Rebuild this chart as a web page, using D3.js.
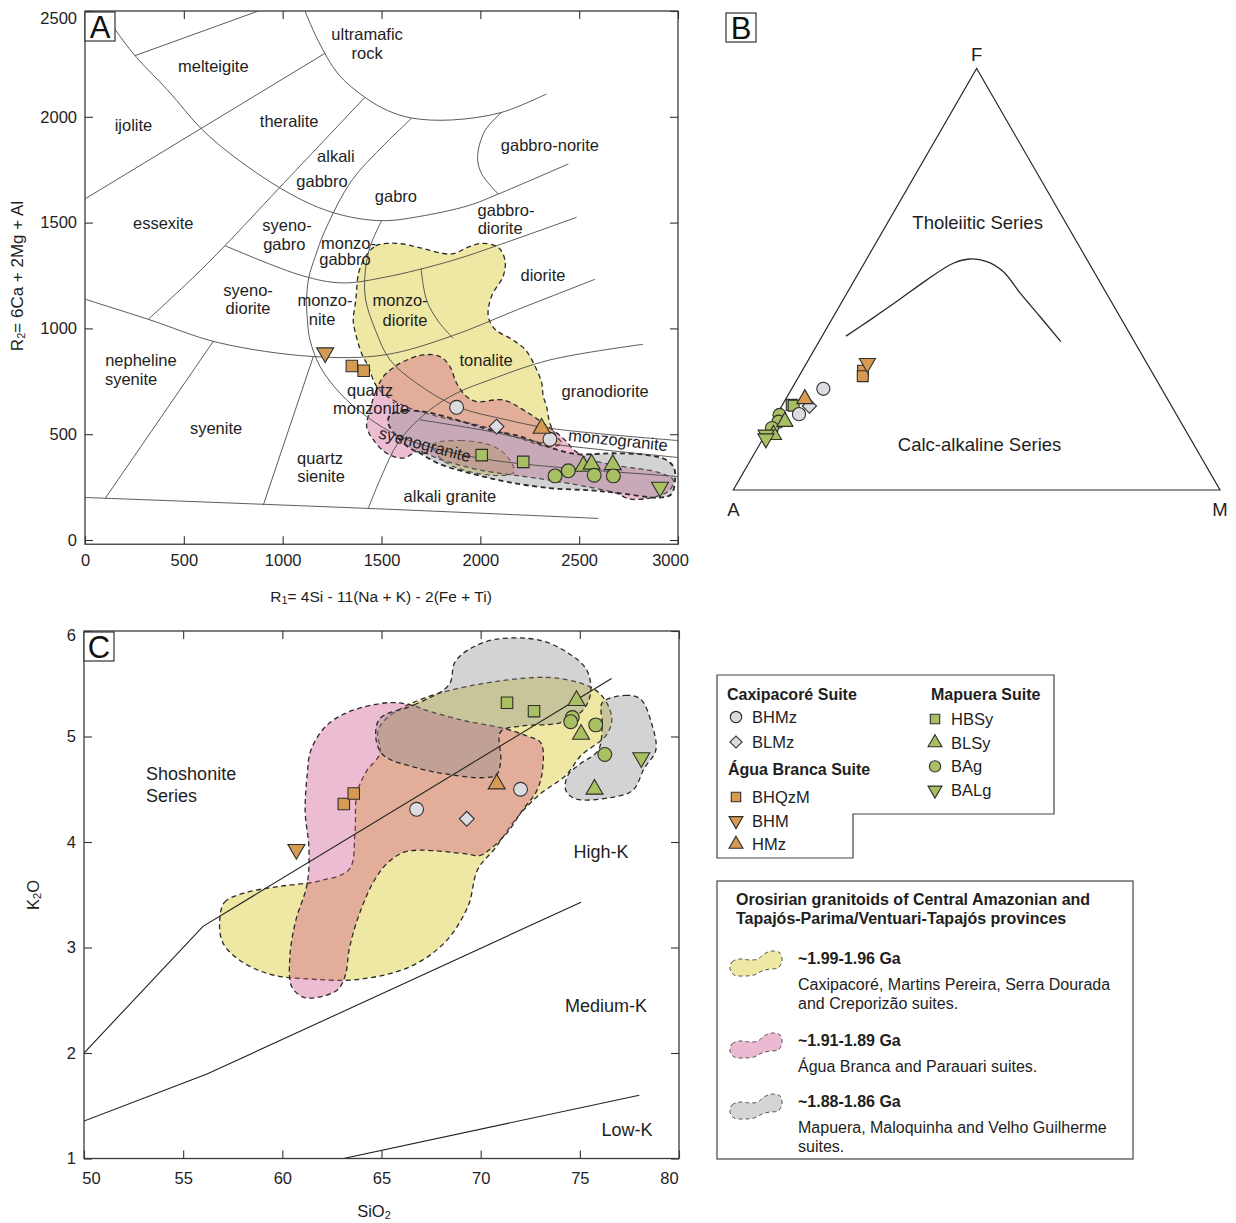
<!DOCTYPE html>
<html>
<head>
<meta charset="utf-8">
<script src="https://cdn.jsdelivr.net/npm/d3@7"></script>
<style>
  body { margin: 0; background: #fff; }
  svg { font-family: "Liberation Sans", Arial, sans-serif; }
</style>
</head>
<body>
<svg id="fig" width="1236" height="1223"></svg>
<script>
// ================= Panel A: R1–R2 classification =================
const r1Ticks = [0, 500, 1000, 1500, 2000, 2500, 3000];
const r2Ticks = [0, 500, 1000, 1500, 2000, 2500];

// field boundaries, [R1, R2]
const fieldBoundaries = [
  [[1113,2500],[1180,2359],[1281,2202],[1416,2092],[1530,2030],[1653,1994],[1855,1985],[2108,2021],[2335,2108]],
  [[95,2500],[152,2414],[253,2289],[421,2123],[590,1942],[759,1808],[995,1659],[1180,1572],[1349,1525],[1517,1509],[1686,1528],[1939,1580],[2091,1635],[2445,1777]],
  [[253,2289],[877,2500]],
  [[0,1612],[1214,2300]],
  [[1416,2092],[978,1659],[708,1391],[556,1248],[320,1043]],
  [[2108,2021],[2023,1934],[1986,1808],[2007,1730],[2091,1635]],
  [[0,1138],[320,1043],[674,933],[1155,867],[1517,875],[1855,964],[2192,1090],[2580,1232]],
  [[708,1391],[1096,1250],[1300,1215],[1518,1242],[1855,1320],[2108,1399],[2487,1525]],
  [[1653,1994],[1517,1871],[1349,1698],[1214,1462],[1165,1340],[1132,1240],[1121,1134],[1125,1040],[1138,946],[1189,820],[1290,694],[1425,583],[1593,489],[1796,426],[2049,379],[2352,347],[3000,300]],
  [[1500,1508],[1440,1380],[1416,1248],[1420,1134],[1470,990],[1543,851],[1678,741],[1880,631],[2133,568],[2352,528],[3000,470]],
  [[1700,1284],[1728,1134],[1790,1030],[1863,953]],
  [[1433,149],[1492,284],[1593,473],[1745,615],[1880,694],[2049,757],[2352,851],[2824,925]],
  [[1695,568],[2049,513],[2300,462],[2600,428],[3000,390]],
  [[650,940],[101,195]],
  [[1155,867],[902,165]],
  [[0,201],[1517,146],[2597,102]]
];

// field names: [text, R1, R2, rotation]
const fieldNames = [
  ["ultramafic",1427,2391],["rock",1427,2301],["melteigite",649,2241],["ijolite",245,1961],
  ["theralite",1033,1978],["alkali",1269,1816],["gabbro",1199,1698],["gabro",1573,1626],
  ["gabbro-norite",2352,1867],["gabbro-",2130,1559],["diorite",2100,1474],["essexite",396,1498],
  ["syeno-",1022,1490],["gabro",1008,1399],["monzo-",1333,1402],["gabbro",1315,1328],
  ["diorite",2317,1253],["syeno-",825,1182],["diorite",825,1097],["monzo-",1214,1134],["nite",1199,1045],
  ["monzo-",1594,1134],["diorite",1619,1040],["tonalite",2029,851],["nepheline",283,851],["syenite",233,761],
  ["quartz",1442,710],["monzonite",1447,625],["granodiorite",2631,705],["syenite",663,530],
  ["quartz",1189,388],["sienite",1194,303],["alkali granite",1846,209],
  ["syenogranite",1720,452,15],["monzogranite",2697,473,6]
];

// age-group envelopes in R1–R2 space
const envYellowA = [[1420,1340],[1470,1390],[1530,1402],[1600,1400],[1686,1383],[1855,1352],[1940,1385],[2007,1402],[2091,1383],[2125,1320],[2116,1248],[2057,1153],[2040,1059],[2074,996],[2158,949],[2226,901],[2276,823],[2310,744],[2318,680],[2335,631],[2352,552],[2386,489],[2411,458],[2350,440],[2200,480],[2000,540],[1800,580],[1600,640],[1480,720],[1433,820],[1399,883],[1365,990],[1357,1040],[1370,1134],[1385,1265]];
const envYellowA2 = [[1760,450],[1900,470],[2060,445],[2140,390],[2170,320],[2080,305],[1900,335],[1800,385]];
const envPinkA = [[1442,615],[1470,700],[1509,772],[1560,815],[1610,843],[1711,875],[1796,867],[1846,820],[1880,741],[1930,678],[1981,654],[2116,662],[2217,615],[2318,552],[2420,480],[2480,420],[2560,380],[2700,350],[2900,320],[2976,284],[2959,237],[2892,206],[2757,193],[2689,221],[2550,250],[2300,290],[2000,330],[1800,380],[1686,418],[1610,387],[1526,410],[1459,473],[1425,536]];
const envGrayA = [[1543,590],[1620,610],[1711,607],[1880,568],[2049,520],[2200,490],[2300,455],[2420,418],[2504,405],[2673,410],[2841,402],[2942,378],[2980,340],[2985,280],[2965,215],[2900,200],[2700,222],[2550,235],[2352,245],[2133,275],[1964,312],[1796,358],[1695,410],[1644,434],[1577,489],[1534,552]];

// samples: [unit, R1, R2]
const r1r2Samples = [
  ["BHM",1215,885],["BHQzM",1350,822],["BHQzM",1410,800],
  ["BHMz",1880,627],["BHMz",2352,476],["BLMz",2082,536],["HMz",2310,528],
  ["HBSy",2007,401],["HBSy",2217,369],
  ["BLSy",2521,348],["BLSy",2563,358],["BLSy",2670,356],
  ["BAg",2378,303],["BAg",2445,327],["BAg",2576,306],["BAg",2673,303],
  ["BALg",2909,250]
];

// ================= Panel B: AFM =================
const afmBoundary = [[36.5,4.9],[40.3,7.9],[44.7,11.2],[49.8,14.8],[53.8,18.3],[54.8,21.2],[54.2,25.0],[51.8,29.6],[46.7,35.6],[41.1,42.5],[35.2,49.7]]; // [F%, M%]
const afmSamples = [
  ["BAg",17.8,0.6],["BAg",16.2,1.2],["BAg",14.7,0.6],["BLSy",16.2,2.5],["BLSy",13.1,1.7],
  ["BALg",13.1,0.2],["BALg",12.2,0.6],["HBSy",20.2,1.9],["HBSy",20.0,2.4],
  ["BHMz",24.0,6.5],["BHMz",18.0,4.5],["BLMz",19.9,5.7],["HMz",21.6,3.9],
  ["BHQzM",28.3,12.5],["BHQzM",27.0,13.1],["BHM",30.1,12.5]
]; // [unit, F%, M%]

// ================= Panel C: SiO2 vs K2O =================
const sio2Ticks = [50, 55, 60, 65, 70, 75, 80];
const k2oTicks = [1, 2, 3, 4, 5, 6];
const kSeriesLines = [
  [[50,2.0],[56,3.2],[76.6,5.55]],
  [[50,1.355],[56.2,1.80],[75.06,3.43]],
  [[63.08,1.0],[78.0,1.6]]
];
const seriesNames = [["Shoshonite",53.13,4.645,"start"],["Series",53.13,4.436,"start"],["High-K",76.07,3.905,"middle"],["Medium-K",76.32,2.445,"middle"],["Low-K",77.38,1.27,"middle"]];

const envYellowC = [[56.84,3.25],[57.09,3.43],[58.15,3.52],[59.89,3.58],[61.83,3.63],[63.37,3.74],[63.66,4.08],[63.76,4.46],[64.24,4.67],[64.92,4.84],[64.82,5.05],[65.30,5.18],[67.24,5.37],[71.10,5.53],[74.00,5.55],[75.93,5.42],[76.61,5.18],[76.32,5.01],[75.06,4.82],[74.29,4.63],[73.03,4.46],[71.87,4.24],[70.72,3.94],[69.85,3.74],[69.36,3.39],[68.20,3.05],[66.46,2.82],[63.95,2.70],[61.44,2.70],[59.31,2.75],[57.77,2.89],[56.99,3.05]];
const envPinkC = [[62.21,5.10],[63.37,5.235],[65.30,5.32],[66.46,5.30],[67.24,5.25],[69.17,5.15],[71.10,5.08],[72.26,5.01],[73.03,4.94],[73.13,4.70],[72.84,4.49],[72.07,4.29],[71.30,4.08],[70.33,3.91],[69.94,3.87],[69.17,3.89],[66.27,3.91],[65.30,3.80],[64.53,3.60],[63.76,3.25],[63.37,2.98],[63.18,2.74],[62.79,2.60],[61.83,2.53],[61.05,2.53],[60.47,2.63],[60.38,2.91],[60.67,3.25],[61.25,3.60],[61.34,3.94],[61.15,4.29],[61.25,4.63],[61.44,4.87]];
const envGrayC = [[64.92,5.17],[66.66,5.30],[68.40,5.49],[68.69,5.70],[69.36,5.82],[70.72,5.92],[73.03,5.91],[74.58,5.77],[75.35,5.63],[75.55,5.42],[75.16,5.25],[74.00,5.13],[72.07,5.10],[71.01,5.045],[71.01,4.77],[70.81,4.64],[70.14,4.61],[68.40,4.64],[66.85,4.70],[65.11,4.82],[64.72,4.98]];
const envGrayC2 = [[76.13,5.32],[77.29,5.39],[78.06,5.355],[78.64,5.11],[78.83,4.87],[78.25,4.70],[77.67,4.49],[76.51,4.42],[74.77,4.41],[74.29,4.49],[74.39,4.63],[74.97,4.735],[75.93,4.87],[76.13,5.11]];

const sio2K2oSamples = [
  ["BHM",60.71,3.93],["BHQzM",63.10,4.36],["BHQzM",63.60,4.46],
  ["BHMz",66.77,4.31],["BHMz",72.01,4.50],["BLMz",69.30,4.22],["HMz",70.81,4.55],
  ["HBSy",71.33,5.32],["HBSy",72.69,5.24],
  ["BLSy",74.83,5.34],["BLSy",75.06,5.02],["BLSy",75.74,4.50],
  ["BAg",74.62,5.18],["BAg",74.54,5.14],["BAg",75.80,5.11],["BAg",76.26,4.83],
  ["BALg",78.10,4.80]
];

// ================= legend content =================
const suiteCaxipacore = ["BHMz","BLMz"];
const suiteAguaBranca = ["BHQzM","BHM","HMz"];
const suiteMapuera = ["HBSy","BLSy","BAg","BALg"];
const ageGroups = [
  ["~1.99-1.96 Ga", ["Caxipacoré, Martins Pereira, Serra Dourada", "and Creporizão suites."]],
  ["~1.91-1.89 Ga", ["Água Branca and Parauari suites."]],
  ["~1.88-1.86 Ga", ["Mapuera, Maloquinha and Velho Guilherme", "suites."]]
];

// ================= styles =================
const ORANGE = "#d69a52", GREEN = "#a8bf62", LGRAY = "#dcdce0";
const unitStyle = {
  BHMz:  {shape:"circle",  fill:LGRAY},
  BLMz:  {shape:"diamond", fill:LGRAY},
  BHQzM: {shape:"square",  fill:ORANGE},
  BHM:   {shape:"down",    fill:ORANGE},
  HMz:   {shape:"up",      fill:ORANGE},
  HBSy:  {shape:"square",  fill:GREEN},
  BLSy:  {shape:"up",      fill:GREEN},
  BAg:   {shape:"circle",  fill:GREEN},
  BALg:  {shape:"down",    fill:GREEN}
};
const envStyle = {
  yellow: {fill:"#efe8a4", opacity:1},
  pink:   {fill:"rgb(205,80,140)", opacity:0.38},
  gray:   {fill:"rgb(140,140,140)", opacity:0.38}
};
const legendSwatchFill = {yellow:"#efe8a4", pink:"#ebbad2", gray:"#d5d5d5"};
const LINE = "#4a4a4a";
const TXT = "#1e1e1e";

const svg = d3.select("#fig");

function drawMarker(g, unit, x, y, k) {
  const st = unitStyle[unit];
  let type = d3.symbolCircle, size = 150, rot = 0;
  if (st.shape === "square") { type = d3.symbolSquare; size = 132; }
  if (st.shape === "diamond") { type = d3.symbolSquare; size = 110; rot = 45; }
  if (st.shape === "up") { type = d3.symbolTriangle; size = 125; }
  if (st.shape === "down") { type = d3.symbolTriangle; size = 125; rot = 180; }
  g.append("path")
    .attr("d", d3.symbol(type, size * k * k)())
    .attr("transform", `translate(${x},${y}) rotate(${rot})`)
    .attr("fill", st.fill).attr("stroke", "#2e2e2e").attr("stroke-width", 1.1);
}

function panelLetter(x, y, letter) {
  const g = svg.append("g");
  g.append("rect").attr("x", x).attr("y", y).attr("width", 30).attr("height", 29)
    .attr("fill", "#fff").attr("stroke", "#333").attr("stroke-width", 1.2);
  g.append("text").attr("x", x + 15).attr("y", y + 15).attr("text-anchor", "middle")
    .attr("dominant-baseline", "central").attr("font-size", 31).attr("fill", "#111").text(letter);
}

function envelope(g, pts, sx, sy, style, dashW) {
  const path = d3.line().x(d => sx(d[0])).y(d => sy(d[1])).curve(d3.curveCatmullRomClosed.alpha(0.5));
  g.append("path").attr("d", path(pts))
    .attr("fill", envStyle[style].fill).attr("fill-opacity", envStyle[style].opacity)
    .attr("stroke", "#2a2a2a").attr("stroke-width", dashW).attr("stroke-dasharray", "5,3.5");
}

function frameAxes(g, sx, sy, xt, yt, yt0, opts) {
  const x0 = sx.range()[0], x1 = sx.range()[1];
  const yTop = sy(yt0), yBot = opts.bottom;
  // inward ticks on all four sides
  const bottom = g.append("g").attr("transform", `translate(0,${yBot})`)
    .call(d3.axisBottom(sx).tickValues(xt).tickSize(-8).tickSizeOuter(0).tickPadding(opts.xpad).tickFormat(d3.format("d")));
  const left = g.append("g").attr("transform", `translate(${x0},0)`)
    .call(d3.axisLeft(sy).tickValues(yt).tickSize(-8).tickSizeOuter(0).tickPadding(8).tickFormat(d3.format("d")));
  g.append("g").attr("transform", `translate(0,${yTop})`)
    .call(d3.axisTop(sx).tickValues(xt).tickSize(-8).tickSizeOuter(0).tickFormat(""));
  g.append("g").attr("transform", `translate(${x1},0)`)
    .call(d3.axisRight(sy).tickValues(yt).tickSize(-8).tickSizeOuter(0).tickFormat(""));
  g.selectAll(".domain").remove();
  g.selectAll(".tick line").attr("stroke", "#333").attr("stroke-width", 1.1);
  g.selectAll(".tick text").attr("font-size", 16.5).attr("fill", TXT)
    .attr("font-family", "'Liberation Sans', Arial, sans-serif");
  g.append("rect").attr("x", x0).attr("y", yTop).attr("width", x1 - x0).attr("height", yBot - yTop)
    .attr("fill", "none").attr("stroke", "#3a3a3a").attr("stroke-width", 1.3);
  return {bottom, left};
}

// ---------------- Panel A ----------------
{
  const ax = d3.scaleLinear().domain([0, 3000]).range([85, 678]);
  const ay = d3.scaleLinear().domain([0, 2500]).range([540, 11]);
  const bottomY = ay(-20);
  const g = svg.append("g");
  svg.append("defs").append("clipPath").attr("id", "clipA").append("rect")
    .attr("x", ax(0)).attr("y", ay(2500)).attr("width", ax(3000) - ax(0)).attr("height", bottomY - ay(2500));
  const plot = g.append("g").attr("clip-path", "url(#clipA)");

  envelope(plot, envYellowA, ax, ay, "yellow", 1.3);
  envelope(plot, envYellowA2, ax, ay, "yellow", 1.1);
  envelope(plot, envPinkA, ax, ay, "pink", 1.3);
  envelope(plot, envGrayA, ax, ay, "gray", 1.8);

  const bl = d3.line().x(d => ax(d[0])).y(d => ay(d[1])).curve(d3.curveCatmullRom.alpha(0.5));
  plot.selectAll("path.bnd").data(fieldBoundaries).join("path").attr("class", "bnd")
    .attr("d", bl).attr("fill", "none").attr("stroke", LINE).attr("stroke-width", 0.9);

  plot.selectAll("text.fld").data(fieldNames).join("text").attr("class", "fld")
    .attr("transform", d => `translate(${ax(d[1])},${ay(d[2])}) rotate(${d[3] || 0})`)
    .attr("text-anchor", "middle").attr("dominant-baseline", "central")
    .attr("font-size", 16.5).attr("fill", TXT).text(d => d[0]);

  const mk = plot.append("g");
  r1r2Samples.forEach(d => drawMarker(mk, d[0], ax(d[1]), ay(d[2]), 1));

  const axes = frameAxes(g, ax, ay, r1Ticks, r2Ticks, 2500, {bottom: bottomY, xpad: 10});
  axes.bottom.selectAll(".tick text").filter(d => d === 3000).attr("dx", -8);
  axes.left.selectAll(".tick text").filter(d => d === 2500).attr("dy", "0.75em");

  const xt = svg.append("text").attr("x", 381).attr("y", 596).attr("text-anchor", "middle")
    .attr("dominant-baseline", "central").attr("font-size", 15.5).attr("fill", TXT);
  xt.append("tspan").text("R");
  xt.append("tspan").attr("font-size", 11).attr("dy", 4).text("1");
  xt.append("tspan").attr("dy", -4).text("= 4Si - 11(Na + K) - 2(Fe + Ti)");

  const yt = svg.append("text").attr("transform", "translate(17,276) rotate(-90)").attr("text-anchor", "middle")
    .attr("dominant-baseline", "central").attr("font-size", 17).attr("fill", TXT);
  yt.append("tspan").text("R");
  yt.append("tspan").attr("font-size", 11).attr("dy", 4).text("2");
  yt.append("tspan").attr("dy", -4).text("= 6Ca + 2Mg + Al");

  panelLetter(ax(0), ay(2500) + 1, "A");
}

// ---------------- Panel B ----------------
{
  const tx = d3.scaleLinear().domain([0, 100]).range([733.3, 1220]); // position along A–M
  const ty = d3.scaleLinear().domain([0, 100]).range([490, 68.5]);   // F content
  const proj = (f, m) => [tx(m + f / 2), ty(f)];
  const g = svg.append("g");
  const tri = [proj(0, 0), proj(0, 100), proj(100, 0)];
  g.append("path").attr("d", d3.line()(tri) + "Z").attr("fill", "none").attr("stroke", "#2a2a2a").attr("stroke-width", 1.2);
  g.append("path").attr("d", d3.line().curve(d3.curveCatmullRom.alpha(0.5))(afmBoundary.map(d => proj(d[0], d[1]))))
    .attr("fill", "none").attr("stroke", "#2a2a2a").attr("stroke-width", 1.3);

  const lab = [["F", proj(100, 0), 0, -14], ["A", proj(0, 0), 0, 19], ["M", proj(0, 100), 0, 19]];
  g.selectAll("text.vx").data(lab).join("text").attr("class", "vx")
    .attr("x", d => d[1][0] + d[2]).attr("y", d => d[1][1] + d[3])
    .attr("text-anchor", "middle").attr("dominant-baseline", "central").attr("font-size", 18.5).attr("fill", TXT).text(d => d[0]);

  const tholeiitic = proj(63.4, 18.5), calc = proj(10.8, 45.2);
  g.append("text").attr("x", tholeiitic[0]).attr("y", tholeiitic[1]).attr("text-anchor", "middle")
    .attr("dominant-baseline", "central").attr("font-size", 18.5).attr("fill", TXT).text("Tholeiitic Series");
  g.append("text").attr("x", calc[0]).attr("y", calc[1]).attr("text-anchor", "middle")
    .attr("dominant-baseline", "central").attr("font-size", 18.5).attr("fill", TXT).text("Calc-alkaline Series");

  const mk = g.append("g");
  afmSamples.forEach(d => { const p = proj(d[1], d[2]); drawMarker(mk, d[0], p[0], p[1], 0.95); });

  panelLetter(726, 13, "B");
}

// ---------------- Panel C ----------------
{
  const cx = d3.scaleLinear().domain([50, 80]).range([84, 679]);
  const cy = d3.scaleLinear().domain([1, 6]).range([1158.5, 631]);
  const g = svg.append("g");
  svg.select("defs").append("clipPath").attr("id", "clipC").append("rect")
    .attr("x", cx(50)).attr("y", cy(6)).attr("width", cx(80) - cx(50)).attr("height", cy(1) - cy(6));
  const plot = g.append("g").attr("clip-path", "url(#clipC)");

  envelope(plot, envYellowC, cx, cy, "yellow", 1.3);
  envelope(plot, envPinkC, cx, cy, "pink", 1.3);
  envelope(plot, envGrayC, cx, cy, "gray", 1.3);
  envelope(plot, envGrayC2, cx, cy, "gray", 1.3);

  const kl = d3.line().x(d => cx(d[0])).y(d => cy(d[1]));
  plot.selectAll("path.ks").data(kSeriesLines).join("path").attr("class", "ks")
    .attr("d", kl).attr("fill", "none").attr("stroke", "#222").attr("stroke-width", 1.1);

  plot.selectAll("text.sn").data(seriesNames).join("text").attr("class", "sn")
    .attr("x", d => cx(d[1])).attr("y", d => cy(d[2])).attr("text-anchor", d => d[3])
    .attr("dominant-baseline", "central").attr("font-size", 18).attr("fill", TXT).text(d => d[0]);

  const mk = plot.append("g");
  sio2K2oSamples.forEach(d => drawMarker(mk, d[0], cx(d[1]), cy(d[2]), 1));

  const axes = frameAxes(g, cx, cy, sio2Ticks, k2oTicks, 6, {bottom: cy(1), xpad: 14});
  axes.bottom.selectAll(".tick text").filter(d => d === 50).attr("dx", 7);
  axes.bottom.selectAll(".tick text").filter(d => d === 80).attr("dx", -10);
  axes.left.selectAll(".tick text").filter(d => d === 6).attr("dy", "0.6em");

  const xt = svg.append("text").attr("x", 374).attr("y", 1211).attr("text-anchor", "middle")
    .attr("dominant-baseline", "central").attr("font-size", 16.5).attr("fill", TXT);
  xt.append("tspan").text("SiO");
  xt.append("tspan").attr("font-size", 11).attr("dy", 4).text("2");

  const yt = svg.append("text").attr("transform", "translate(33,895) rotate(-90)").attr("text-anchor", "middle")
    .attr("dominant-baseline", "central").attr("font-size", 16.5).attr("fill", TXT);
  yt.append("tspan").text("K");
  yt.append("tspan").attr("font-size", 11).attr("dy", 4).text("2");
  yt.append("tspan").attr("dy", -4).text("O");

  panelLetter(cx(50), cy(6) + 1, "C");
}

// ---------------- Legends ----------------
{
  const g = svg.append("g");
  // symbol legend (stepped outline)
  g.append("path").attr("d", d3.line()([[717, 675], [1054, 675], [1054, 814], [853, 814], [853, 858], [717, 858]]) + "Z")
    .attr("fill", "#fff").attr("stroke", "#444").attr("stroke-width", 1.2);

  const head = (x, y, t) => g.append("text").attr("x", x).attr("y", y).attr("dominant-baseline", "central")
    .attr("font-size", 16).attr("font-weight", "bold").attr("fill", TXT).text(t);
  const item = (x, y, unit) => {
    drawMarker(g, unit, x, y, 0.82);
    g.append("text").attr("x", x + 16).attr("y", y).attr("dominant-baseline", "central")
      .attr("font-size", 16.5).attr("fill", TXT).text(unit);
  };
  head(727, 694, "Caxipacoré Suite");
  suiteCaxipacore.forEach((u, i) => item(736, 717 + i * 25, u));
  head(728, 769, "Água Branca Suite");
  suiteAguaBranca.forEach((u, i) => item(736, 797 + i * 23.6, u));
  head(931, 694, "Mapuera Suite");
  suiteMapuera.forEach((u, i) => item(935, 719 + i * 23.7, u));

  // envelope legend
  g.append("rect").attr("x", 717).attr("y", 881).attr("width", 416).attr("height", 278)
    .attr("fill", "#fff").attr("stroke", "#444").attr("stroke-width", 1.2);
  head(736, 899, "Orosirian granitoids of Central Amazonian and");
  head(736, 918, "Tapajós-Parima/Ventuari-Tapajós provinces");

  const blob = [[2,20],[4,13],[12,10],[22,11],[30,10],[36,5],[44,2],[52,4],[54,12],[50,19],[42,20],[34,22],[26,26],[16,27],[6,26]];
  const blobPath = d3.line().curve(d3.curveCatmullRomClosed.alpha(0.5));
  const swatchKeys = ["yellow", "pink", "gray"];
  const rowsY = [949, 1031, 1092];
  ageGroups.forEach((grp, i) => {
    const y0 = rowsY[i];
    g.append("path").attr("d", blobPath(blob)).attr("transform", `translate(728,${y0})`)
      .attr("fill", legendSwatchFill[swatchKeys[i]]).attr("stroke", "#555").attr("stroke-width", 1)
      .attr("stroke-dasharray", "4,3");
    g.append("text").attr("x", 798).attr("y", y0 + 9.5).attr("dominant-baseline", "central")
      .attr("font-size", 16).attr("font-weight", "bold").attr("fill", TXT).text(grp[0]);
    grp[1].forEach((t, j) => g.append("text").attr("x", 798).attr("y", y0 + 35.5 + j * 18.7)
      .attr("dominant-baseline", "central").attr("font-size", 16).attr("fill", TXT).text(t));
  });
}
</script>
</body>
</html>
